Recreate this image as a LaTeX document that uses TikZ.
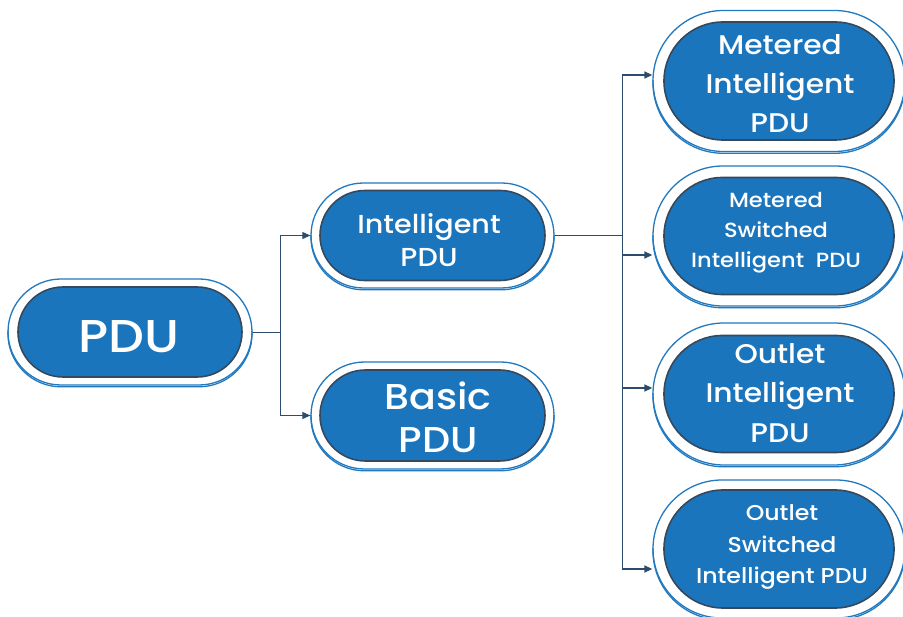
\documentclass[tikz,border=0pt]{standalone}
\usepackage{fontspec}
\setmainfont{Poppins Medium}[FakeStretch=1.1]
\usetikzlibrary{shapes.misc,calc,arrows.meta}
\definecolor{pillfill}{HTML}{1B75BC}
\definecolor{pillrim}{HTML}{34495E}
\definecolor{pillout}{HTML}{2179C0}
\definecolor{conn}{HTML}{2B4C6B}
\tikzset{
  outerpill/.style={rounded rectangle, draw=pillout, line width=1.3pt, fill=white, inner sep=0pt},
  innerpill/.style={rounded rectangle, draw=pillrim, line width=1.6pt, fill=pillfill, inner sep=0pt, text=white, align=center},
  arr/.style={draw=conn, line width=1.3pt, -{Triangle[length=8pt,width=7pt]}},
  arrthin/.style={draw=conn, line width=0.9pt, -{Triangle[length=8pt,width=7pt]}},
}
% \mypill{name}{cx}{cy}{ow}{oh}{iw}{ih}
\newcommand{\mypill}[7]{%
  \node[outerpill, minimum width=#4pt, minimum height=#5pt] (#1) at (#2,#3) {};
  \begin{scope}
    \clip ($(#1.west)+(-4,0)$) rectangle ($(#1.east)+(4,#5/2+6)$);
    \node[rounded rectangle, draw=pillout, line width=1.3pt, inner sep=0pt, minimum width=#4pt, minimum height=#5pt] at (#2,#3+1.8) {};
  \end{scope}
  \node[innerpill, minimum width=#6pt, minimum height=#7pt] (#1i) at (#2,#3) {};
}
\begin{document}
\begin{tikzpicture}[x=1pt,y=-1pt]
\useasboundingbox[fill=white] (0,0) rectangle (903,617);
\mypill{pdu}{130}{332}{244}{106}{224}{90}
\mypill{ip}{432.5}{235.5}{243}{105}{225}{90}
\mypill{bp}{432.5}{415.5}{243}{107}{225}{91}
\mypill{mi}{779}{81}{252}{141}{230}{118}
\mypill{ms}{779}{236}{252}{140}{230}{117}
\mypill{oi}{779}{394}{252}{142}{230}{117}
\mypill{os}{779}{549}{252}{138}{230}{118}

\node[text=white, font=\fontsize{46}{50}\selectfont] (tpdu) at (129,337) {PDU};
\node[text=white, align=center, font=\fontsize{26}{33}\selectfont] (tip) at (429,240) {Intelligent\\PDU};
\node[text=white, align=center, font=\fontsize{36}{43}\selectfont] (tbp) at (438,417) {Basic\\PDU};
\node[text=white, align=center, font=\fontsize{27}{39}\selectfont] (tmi) at (780,84) {Metered\\Intelligent\\PDU};
\node[text=white, align=center, font=\fontsize{20.5}{30}\selectfont] (tms) at (776,233) {Metered\\Switched\\Intelligent\ \ PDU};
\node[text=white, align=center, font=\fontsize{27}{39.5}\selectfont] (toi) at (780,393) {Outlet\\Intelligent\\PDU};
\node[text=white, align=center, font=\fontsize{21.5}{31.5}\selectfont] (tos) at (782,547) {Outlet\\Switched\\Intelligent PDU};

\coordinate (j1) at ($(pdu.east)+(28,0)$);
\draw[arrthin] (pdu.east) -- (j1) |- (ip.west);
\draw[arrthin] (j1) |- (bp.west);

\coordinate (j2) at ($(ip.east)+(68,0)$);
\draw[arr] (ip.east) -- (j2) |- ($(mi.west)+(0,-6)$);
\draw[arr] (j2) |- ($(ms.west)+(0,19)$);
\draw[arr] (j2) |- ($(oi.west)+(0,-6)$);
\draw[arr] (j2) |- ($(os.west)+(0,20)$);
\end{tikzpicture}
\end{document}
